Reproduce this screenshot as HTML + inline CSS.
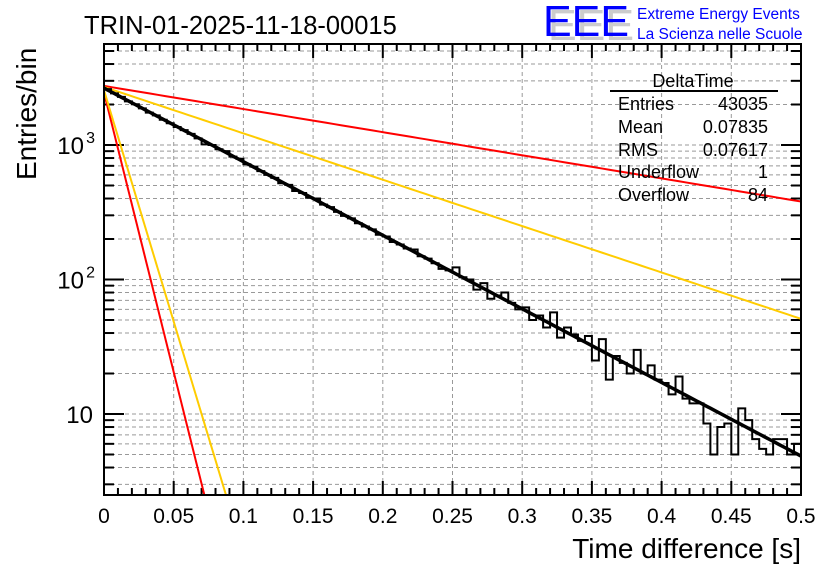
<!DOCTYPE html>
<html><head><meta charset="utf-8"><style>
body{margin:0;background:#fff;}
svg{display:block;font-family:"Liberation Sans",sans-serif;}
</style></head><body>
<svg id="c" width="836" height="572"></svg>
<script>
const xTicks=[0,0.05,0.1,0.15,0.2,0.25,0.3,0.35,0.4,0.45,0.5];
const xTickLabels=["0","0.05","0.1","0.15","0.2","0.25","0.3","0.35","0.4","0.45","0.5"];
const binWidth=0.005;
const counts=[2600,2420,2280,2110,2010,1870,1740,1660,1540,1450,1360,1290,1210,1120,1010,1000,930,900,820,790,
720,690,640,600,570,520,505,455,440,405,400,360,345,318,297,285,262,248,236,215,
209,190,182,170,167,149,143,132,120,117,123,104,100,84,94,72,76,80,67,60,
62,50,54,44,57,37,44,39,35,38,25,36,18,27,24,20,30,20,23,18,
17,14,19,13,12,12,8.5,5,8,8.5,5,11,9,6.5,5.5,5,6.5,6.5,5,6];
const fitA=2650, fitSlope=12.6;
const red1=[2750,0.5,380];
const orange1=[2700,0.5,51];
const red2=[2450,0.072,2.5];
const orange2=[2550,0.0875,2.5];

const svg=document.getElementById('c');
const NS="http://www.w3.org/2000/svg";
const L=104,R=801,T=44,B=495;
const X=v=>L+(v/0.5)*(R-L);
const Y=v=>414-(Math.log10(v)-1)*134.5;
function el(tag,attrs,parent){const e=document.createElementNS(NS,tag);for(const k in attrs)e.setAttribute(k,attrs[k]);(parent||svg).appendChild(e);return e;}

const grid=el('g',{});


xTicks.forEach((t,i)=>{if(i>0&&i<xTicks.length-1)el('line',{x1:X(t),x2:X(t),y1:T,y2:B,stroke:'#999','stroke-dasharray':'4,3','stroke-width':1},grid);});
const yMinor=[];
for(let d=1;d<=1000;d*=10)for(let m=1;m<10;m++){const v=d*m;if(v>2.5&&v<5600)yMinor.push(v);}
yMinor.forEach(v=>{el('line',{x1:L,x2:R,y1:Y(v),y2:Y(v),stroke:'#999','stroke-dasharray':'4,3','stroke-width':1},grid);
 const big=[10,100,1000].includes(v);
 el('line',{x1:L,x2:L+(big?20:10),y1:Y(v),y2:Y(v),stroke:'#000','stroke-width':2},grid);
 el('line',{x1:R,x2:R-(big?20:10),y1:Y(v),y2:Y(v),stroke:'#000','stroke-width':2},grid);});
for(let i=0;i<=50;i++){const v=i*0.01;const big=i%5==0;
 el('line',{x1:X(v),x2:X(v),y1:B,y2:B-(big?14:7),stroke:'#000','stroke-width':2},grid);
 el('line',{x1:X(v),x2:X(v),y1:T,y2:T+(big?14:7),stroke:'#000','stroke-width':2},grid);}

const clip=el('clipPath',{id:'cp'});el('rect',{x:L,y:T,width:R-L,height:B-T},clip);
function line(pts,color,name){const p=el('polyline',{points:pts.map(q=>q.join(',')).join(' '),fill:'none',stroke:color,'stroke-width':2,'clip-path':'url(#cp)'});
 
 }
function expLine(a,xe,ye,color,name){const k=Math.log(a/ye)/xe;const pts=[];for(let i=0;i<=100;i++){const x=xe*1.1*i/100;pts.push([X(x),Y(a*Math.exp(-k*x))]);}line(pts,color,name);}
expLine(red1[0],red1[1],red1[2],'#f00','red-slow-curve');
expLine(orange1[0],orange1[1],orange1[2],'#fc0','orange-slow-curve');
expLine(red2[0],red2[1],red2[2],'#f00','red-fast-curve');
expLine(orange2[0],orange2[1],orange2[2],'#fc0','orange-fast-curve');

let hp=[];counts.forEach((c,i)=>{hp.push([X(i*binWidth),Y(c)]);hp.push([X((i+1)*binWidth),Y(c)]);});
line(hp,'#000','histogram');
const fp=[];for(let i=0;i<=200;i++){const x=0.5*i/200;fp.push([X(x),Y(fitA*Math.exp(-fitSlope*x))]);}
const f=el('polyline',{points:fp.map(q=>q.join(',')).join(' '),fill:'none',stroke:'#000','stroke-width':3.5,'clip-path':'url(#cp)'});



const fr=el('rect',{x:L,y:T,width:R-L,height:B-T,fill:'none',stroke:'#000','stroke-width':2});



xTicks.forEach((t,i)=>{const tx=el('text',{x:X(t),y:523,'font-size':21,'text-anchor':'middle'});tx.textContent=xTickLabels[i];
 
 });
[[10,"10",""],[100,"10","2"],[1000,"10","3"]].forEach(a=>{const tx=el('text',{x:a[2]?84:93,y:Y(a[0])+9,'font-size':24,'text-anchor':'end'});tx.textContent=a[1];
 
 
 if(a[2]){const s=el('text',{x:95,y:Y(a[0])-2,'font-size':16,'text-anchor':'end'});s.textContent=a[2];}});
</script>
<svg style="position:absolute;left:0;top:0" width="836" height="572" font-family="Liberation Sans, sans-serif">
<text x="84" y="34" font-size="25.5">TRIN-01-2025-11-18-00015</text>
<text x="801" y="558" font-size="28" text-anchor="end">Time difference [s]</text>
<text transform="translate(36,180) rotate(-90)" font-size="28">Entries/bin</text>
<g>
<text x="548" y="40" font-size="44" fill="#ccc" textLength="86" lengthAdjust="spacingAndGlyphs">EEE</text>
<text x="543" y="36" font-size="44" fill="#00f" textLength="86" lengthAdjust="spacingAndGlyphs">EEE</text>
<text x="637" y="19" font-size="15.5" fill="#00f">Extreme Energy Events</text>
<text x="637" y="39" font-size="15.5" fill="#00f">La Scienza nelle Scuole</text>
</g>
<g font-size="18">
<text x="693" y="87" text-anchor="middle">DeltaTime</text>
<line x1="610" y1="91" x2="778" y2="91" stroke="#000" stroke-width="2"/>
<text x="618" y="110">Entries</text><text x="768" y="110" text-anchor="end">43035</text>
<text x="618" y="133">Mean</text><text x="768" y="133" text-anchor="end">0.07835</text>
<text x="618" y="156">RMS</text><text x="768" y="156" text-anchor="end">0.07617</text>
<text x="618" y="178">Underflow</text><text x="768" y="178" text-anchor="end">1</text>
<text x="618" y="201">Overflow</text><text x="768" y="201" text-anchor="end">84</text>
</g>
</svg>
</body></html>
